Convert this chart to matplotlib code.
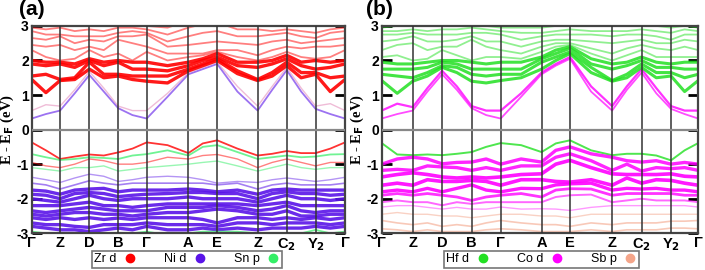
import numpy as np
import matplotlib.pyplot as plt
from matplotlib.lines import Line2D

plt.rcParams.update({
    'font.family': 'Liberation Sans',
    'font.weight': 'bold',
    'font.size': 10,
})

# k-path (high-symmetry points; bands are sampled at these and the midpoints between them)
k_labels = ['Γ', 'Z', 'D', 'B', 'Γ', 'A', 'E', 'Z', 'C$_2$', 'Y$_2$', 'Γ']
k_sym_a = [0.0, 0.0905, 0.184, 0.276, 0.367, 0.500, 0.592, 0.721, 0.814, 0.906, 1.0]
k_sym_b = [0.0, 0.098, 0.191, 0.284, 0.376, 0.505, 0.595, 0.728, 0.821, 0.914, 1.0]

# band energies (eV), one row per k point (Γ, mid, Z, mid, D, ..., Γ)
cb_a = [
    [0.32, 0.55, 1.45, 1.55, 1.90, 2.00, 2.30, 2.45, 2.65, 2.85, 2.95, 3.10],
    [0.45, 0.72, 1.07, 1.60, 1.85, 1.95, 2.10, 2.40, 2.60, 2.75, 2.90, 3.00],
    [0.55, 0.68, 1.42, 1.45, 1.90, 1.95, 2.00, 2.45, 2.70, 2.75, 2.95, 3.10],
    [1.05, 1.15, 1.45, 1.50, 1.80, 1.90, 2.05, 2.30, 2.50, 2.70, 2.85, 3.00],
    [1.58, 1.68, 1.75, 1.95, 2.00, 2.05, 2.30, 2.40, 2.60, 2.70, 2.90, 3.00],
    [1.10, 1.20, 1.50, 1.60, 1.85, 1.95, 2.10, 2.30, 2.55, 2.70, 2.85, 3.00],
    [0.62, 0.68, 1.55, 1.60, 1.95, 2.00, 2.20, 2.60, 2.70, 2.80, 2.95, 3.05],
    [0.42, 0.55, 1.45, 1.55, 1.75, 1.95, 2.00, 2.50, 2.70, 2.85, 2.95, 3.05],
    [0.32, 0.55, 1.40, 1.55, 1.75, 1.95, 2.25, 2.40, 2.75, 2.80, 2.90, 3.00],
    [0.95, 1.05, 1.35, 1.55, 1.70, 1.85, 2.00, 2.20, 2.40, 2.55, 2.75, 2.95],
    [1.60, 1.65, 1.70, 1.75, 1.85, 1.95, 2.10, 2.20, 2.45, 2.70, 2.95, 3.15],
    [1.75, 1.80, 1.85, 1.90, 2.00, 2.05, 2.15, 2.20, 2.50, 2.80, 3.05, 3.25],
    [1.90, 1.95, 2.00, 2.05, 2.10, 2.20, 2.25, 2.30, 2.55, 2.85, 3.10, 3.30],
    [1.10, 1.25, 1.62, 1.70, 1.85, 1.95, 2.10, 2.30, 2.50, 2.70, 2.90, 3.05],
    [0.55, 0.68, 1.42, 1.45, 1.80, 1.95, 2.00, 2.15, 2.45, 2.70, 2.90, 3.10],
    [1.15, 1.25, 1.55, 1.65, 1.90, 2.00, 2.10, 2.30, 2.55, 2.75, 2.85, 3.00],
    [1.72, 1.80, 1.85, 1.95, 2.05, 2.15, 2.25, 2.40, 2.60, 2.80, 2.90, 3.00],
    [1.10, 1.20, 1.50, 1.65, 1.85, 1.95, 2.10, 2.35, 2.50, 2.70, 2.85, 3.00],
    [0.60, 0.68, 1.60, 1.65, 1.75, 2.00, 2.05, 2.40, 2.55, 2.65, 2.80, 3.00],
    [0.45, 0.75, 1.10, 1.50, 1.80, 1.95, 2.10, 2.40, 2.60, 2.80, 2.90, 3.00],
    [0.32, 0.55, 1.45, 1.55, 1.90, 2.00, 2.30, 2.45, 2.65, 2.85, 2.95, 3.10],
]
vb_a = [
    [-0.37, -0.71, -0.95, -1.10, -1.38, -1.55, -1.75, -1.87, -2.00, -2.20, -2.35, -2.45, -2.55, -2.70, -2.80, -2.95],
    [-0.60, -0.80, -1.05, -1.15, -1.45, -1.60, -1.78, -1.90, -2.05, -2.20, -2.40, -2.50, -2.60, -2.75, -2.85, -3.00],
    [-0.85, -0.88, -1.10, -1.20, -1.53, -1.72, -1.87, -2.00, -2.10, -2.20, -2.35, -2.45, -2.55, -2.75, -2.90, -3.00],
    [-0.78, -0.85, -1.00, -1.10, -1.40, -1.60, -1.75, -1.85, -2.00, -2.15, -2.30, -2.40, -2.60, -2.80, -2.90, -3.05],
    [-0.72, -0.80, -0.85, -1.10, -1.29, -1.48, -1.72, -1.82, -1.90, -2.10, -2.25, -2.40, -2.55, -2.83, -2.95, -3.10],
    [-0.75, -0.82, -0.90, -1.05, -1.35, -1.55, -1.70, -1.85, -2.00, -2.20, -2.30, -2.45, -2.60, -2.75, -2.90, -3.05],
    [-0.66, -0.85, -1.00, -1.20, -1.50, -1.60, -1.80, -1.94, -2.05, -2.20, -2.35, -2.45, -2.56, -2.75, -2.85, -3.00],
    [-0.55, -0.75, -1.00, -1.15, -1.45, -1.55, -1.75, -1.90, -2.00, -2.25, -2.35, -2.50, -2.60, -2.75, -2.90, -3.00],
    [-0.37, -0.71, -0.95, -1.10, -1.38, -1.55, -1.75, -1.87, -2.00, -2.20, -2.35, -2.45, -2.55, -2.70, -2.80, -2.95],
    [-0.45, -0.60, -0.80, -1.05, -1.35, -1.55, -1.75, -1.85, -2.00, -2.15, -2.25, -2.40, -2.55, -2.75, -2.90, -3.05],
    [-0.68, -0.75, -0.85, -1.00, -1.38, -1.55, -1.72, -1.82, -1.95, -2.15, -2.25, -2.40, -2.55, -2.75, -2.90, -3.00],
    [-0.40, -0.50, -0.75, -0.95, -1.45, -1.55, -1.75, -1.82, -2.00, -2.15, -2.25, -2.35, -2.60, -2.75, -2.85, -2.95],
    [-0.31, -0.45, -0.72, -0.91, -1.55, -1.60, -1.80, -1.85, -2.00, -2.15, -2.20, -2.30, -2.70, -2.80, -2.90, -2.95],
    [-0.55, -0.65, -0.85, -1.05, -1.50, -1.55, -1.75, -1.85, -2.00, -2.15, -2.25, -2.35, -2.55, -2.70, -2.85, -2.95],
    [-0.75, -0.85, -1.10, -1.20, -1.53, -1.72, -1.87, -2.00, -2.10, -2.20, -2.35, -2.45, -2.55, -2.70, -2.90, -3.00],
    [-0.70, -0.80, -0.95, -1.10, -1.45, -1.60, -1.75, -1.85, -2.00, -2.15, -2.30, -2.45, -2.60, -2.75, -2.85, -3.00],
    [-0.62, -0.75, -0.85, -1.00, -1.40, -1.55, -1.72, -1.80, -1.90, -2.10, -2.20, -2.35, -2.55, -2.70, -2.85, -3.00],
    [-0.68, -0.80, -0.95, -1.10, -1.45, -1.60, -1.75, -1.85, -2.00, -2.20, -2.35, -2.50, -2.60, -2.70, -2.85, -3.00],
    [-0.68, -0.78, -1.05, -1.15, -1.50, -1.60, -1.75, -1.85, -2.00, -2.20, -2.40, -2.50, -2.55, -2.70, -2.80, -2.90],
    [-0.55, -0.72, -0.95, -1.10, -1.45, -1.60, -1.75, -1.90, -2.05, -2.20, -2.35, -2.45, -2.60, -2.75, -2.85, -3.00],
    [-0.37, -0.71, -0.95, -1.10, -1.38, -1.55, -1.75, -1.87, -2.00, -2.20, -2.35, -2.45, -2.55, -2.70, -2.80, -2.95],
]
cb_b = [
    [0.32, 0.55, 1.42, 1.60, 1.75, 1.95, 2.10, 2.30, 2.55, 2.75, 2.85, 2.95],
    [0.45, 0.75, 1.05, 1.55, 1.75, 1.90, 2.15, 2.45, 2.60, 2.75, 2.85, 3.00],
    [0.55, 0.65, 1.40, 1.50, 1.75, 1.90, 2.00, 2.50, 2.70, 2.80, 2.90, 3.05],
    [1.10, 1.20, 1.55, 1.65, 1.80, 1.95, 2.05, 2.30, 2.55, 2.75, 2.85, 3.00],
    [1.60, 1.70, 1.80, 1.85, 1.95, 2.00, 2.30, 2.40, 2.55, 2.75, 2.90, 3.00],
    [1.15, 1.25, 1.65, 1.80, 1.90, 2.00, 2.15, 2.40, 2.60, 2.75, 2.90, 3.00],
    [0.62, 0.68, 1.40, 1.60, 1.75, 1.95, 2.00, 2.60, 2.70, 2.80, 2.95, 3.05],
    [0.42, 0.55, 1.35, 1.55, 1.75, 1.90, 2.10, 2.40, 2.55, 2.80, 2.90, 3.00],
    [0.32, 0.55, 1.42, 1.60, 1.75, 1.95, 2.10, 2.30, 2.55, 2.75, 2.85, 2.95],
    [0.95, 1.05, 1.50, 1.60, 1.75, 1.95, 2.05, 2.20, 2.40, 2.60, 2.80, 2.95],
    [1.60, 1.65, 1.75, 1.95, 2.05, 2.10, 2.25, 2.40, 2.55, 2.70, 2.80, 2.95],
    [1.85, 1.90, 2.00, 2.10, 2.20, 2.30, 2.40, 2.50, 2.60, 2.75, 2.85, 3.00],
    [2.05, 2.10, 2.20, 2.25, 2.35, 2.40, 2.45, 2.50, 2.60, 2.75, 2.90, 3.00],
    [1.10, 1.25, 1.65, 1.80, 1.90, 2.05, 2.20, 2.35, 2.55, 2.75, 2.85, 3.00],
    [0.55, 0.68, 1.40, 1.42, 1.75, 1.90, 2.00, 2.20, 2.50, 2.70, 2.85, 3.05],
    [1.15, 1.25, 1.50, 1.60, 1.85, 1.95, 2.15, 2.35, 2.55, 2.75, 2.85, 3.00],
    [1.65, 1.75, 1.80, 1.90, 2.00, 2.10, 2.30, 2.45, 2.60, 2.75, 2.90, 3.00],
    [1.05, 1.20, 1.50, 1.65, 1.80, 1.95, 2.10, 2.35, 2.50, 2.70, 2.85, 3.00],
    [0.60, 0.68, 1.55, 1.65, 1.80, 1.90, 2.10, 2.30, 2.50, 2.60, 2.80, 2.95],
    [0.45, 0.55, 1.10, 1.50, 1.75, 1.95, 2.10, 2.40, 2.60, 2.75, 2.90, 3.00],
    [0.32, 0.55, 1.42, 1.60, 1.75, 1.95, 2.10, 2.30, 2.55, 2.75, 2.85, 2.95],
]
vb_b = [
    [-0.39, -1.00, -1.18, -1.37, -1.61, -1.80, -1.90, -2.10, -2.24, -2.45, -2.63, -2.87],
    [-0.72, -0.85, -1.15, -1.30, -1.55, -1.75, -1.85, -2.05, -2.20, -2.40, -2.70, -2.90],
    [-0.74, -0.80, -1.18, -1.25, -1.61, -1.80, -1.90, -2.10, -2.20, -2.45, -2.75, -2.95],
    [-0.72, -0.85, -1.05, -1.30, -1.45, -1.70, -1.85, -2.10, -2.25, -2.45, -2.70, -2.90],
    [-0.74, -0.99, -1.08, -1.37, -1.50, -1.80, -1.90, -2.19, -2.30, -2.50, -2.80, -2.95],
    [-0.70, -0.95, -1.10, -1.40, -1.50, -1.70, -1.95, -2.10, -2.25, -2.50, -2.75, -2.95],
    [-0.65, -0.94, -1.18, -1.37, -1.47, -1.60, -2.05, -2.15, -2.30, -2.55, -2.80, -2.95],
    [-0.50, -0.85, -1.10, -1.40, -1.50, -1.75, -1.95, -2.10, -2.30, -2.50, -2.70, -2.90],
    [-0.39, -1.00, -1.18, -1.37, -1.61, -1.80, -1.90, -2.10, -2.24, -2.45, -2.63, -2.87],
    [-0.45, -0.85, -1.05, -1.30, -1.45, -1.70, -1.85, -2.10, -2.30, -2.45, -2.70, -2.90],
    [-0.65, -0.94, -1.05, -1.28, -1.45, -1.71, -1.95, -2.10, -2.29, -2.50, -2.75, -2.95],
    [-0.40, -0.60, -0.80, -1.00, -1.50, -1.60, -1.75, -1.95, -2.30, -2.50, -2.75, -2.95],
    [-0.31, -0.50, -0.70, -0.89, -1.52, -1.57, -1.71, -1.90, -2.34, -2.55, -2.80, -2.95],
    [-0.60, -0.70, -0.90, -1.10, -1.45, -1.55, -1.72, -1.88, -2.25, -2.45, -2.70, -2.90],
    [-0.74, -0.80, -1.18, -1.28, -1.61, -1.75, -1.90, -2.10, -2.20, -2.45, -2.75, -2.95],
    [-0.70, -0.90, -1.00, -1.30, -1.40, -1.70, -1.85, -2.05, -2.20, -2.45, -2.70, -2.90],
    [-0.70, -0.94, -1.20, -1.30, -1.55, -1.72, -1.85, -2.00, -2.20, -2.45, -2.70, -2.90],
    [-0.75, -0.90, -1.10, -1.30, -1.45, -1.70, -1.85, -2.05, -2.20, -2.45, -2.70, -2.90],
    [-0.89, -1.00, -1.13, -1.28, -1.47, -1.75, -1.85, -2.05, -2.20, -2.45, -2.65, -2.85],
    [-0.60, -0.95, -1.10, -1.35, -1.55, -1.75, -1.90, -2.05, -2.20, -2.45, -2.65, -2.85],
    [-0.39, -1.00, -1.18, -1.37, -1.61, -1.80, -1.90, -2.10, -2.24, -2.45, -2.63, -2.87],
]

# orbital colours
RED, VIOLET, GREEN = '#ff0000', '#5a14e8', '#33ee66'
HF, SB, PEACH = '#22e022', '#ff00ff', '#f4a58a'

# (colour, width, alpha) per band: cb bottom->top, vb top->bottom
cb_style_a = [(VIOLET, 1.3, 0.6), ('#e07ab0', 1.0, 0.5)] + [(RED, 2.4, 0.9)] * 4 + [(RED, 1.3, 0.5)] * 6
vb_style_a = [(RED, 1.3, 0.8), (GREEN, 1.3, 0.7), (RED, 1.0, 0.5), (GREEN, 1.0, 0.5),
              (VIOLET, 1.0, 0.45), (VIOLET, 1.2, 0.55)] + [(VIOLET, 2.4, 0.9)] * 9 + [(GREEN, 1.2, 0.7)]
cb_style_b = [(SB, 1.3, 0.7), (SB, 1.6, 0.8)] + [(HF, 2.2, 0.85)] * 4 + [(HF, 1.3, 0.5)] * 6
vb_style_b = [(HF, 1.4, 0.8), (SB, 2.4, 0.85), (SB, 2.4, 0.85), (SB, 2.6, 0.9), (SB, 2.6, 0.9),
              (SB, 2.4, 0.9), (SB, 2.0, 0.8), (SB, 1.4, 0.6), (SB, 1.0, 0.4),
              (PEACH, 1.0, 0.5), (PEACH, 1.2, 0.6), (PEACH, 1.2, 0.6)]


def kpath(ksym):
    pts = []
    for i in range(len(ksym) - 1):
        pts += [ksym[i], (ksym[i] + ksym[i + 1]) / 2]
    return np.array(pts + [ksym[-1]])


def draw_panel(ax, ksym, cb, vb, cb_style, vb_style, tag, ylab_x, tag_x):
    k = kpath(ksym)
    for rows, styles in ((cb, cb_style), (vb, vb_style)):
        arr = np.array(rows)
        for j in range(arr.shape[1]):
            c, lw, al = styles[j]
            ax.plot(k, arr[:, j], color=c, lw=lw, alpha=al, solid_capstyle='round', zorder=2)
    for x in ksym[1:-1]:
        ax.axvline(x, color='#333333', lw=1.1, zorder=3)
    ax.axhline(0, color='#888888', lw=1.6, zorder=3)
    ax.set_xlim(0, 1)
    ax.set_ylim(-3, 3)
    ax.set_xticks(ksym)
    ax.set_xticklabels(k_labels, fontsize=10.5, fontweight='bold')
    ax.tick_params(axis='x', length=0, pad=2)
    ax.set_yticks([-3, -2, -1, 0, 1, 2, 3])
    ax.set_yticklabels(['-3', '-2', '-1', '0', '1', '2', '3'], fontsize=10, fontweight='bold')
    ax.tick_params(axis='y', direction='in', length=7, width=2, right=True, pad=2)
    for s in ax.spines.values():
        s.set_color('#444444')
        s.set_linewidth(1.6)
    ax.set_ylabel('E - E$_\\mathbf{F}$ (eV)', family='Liberation Serif', fontweight='bold', fontsize=10.5)
    # label anchor is its right edge (rotated text)
    ax.yaxis.set_label_coords(ylab_x, 0.5)
    ax.text(tag_x, 1.035, tag, transform=ax.transAxes, fontsize=15, fontweight='bold', va='bottom')


fig = plt.figure(figsize=(7.05, 2.70), dpi=100)
ax1 = fig.add_axes([0.045, 0.136, 0.4444, 0.768])
ax2 = fig.add_axes([0.5414, 0.136, 0.449, 0.768])

draw_panel(ax1, k_sym_a, cb_a, vb_a, cb_style_a, vb_style_a, '(a)', -0.049, -0.040)
draw_panel(ax2, k_sym_b, cb_b, vb_b, cb_style_b, vb_style_b, '(b)', -0.050, -0.048)

legend_a = [('Zr d', RED), ('Ni d', VIOLET), ('Sn p', GREEN)]
legend_b = [('Hf d', HF), ('Co d', SB), ('Sb p', PEACH)]
for xc, items in ((0.265, legend_a), (0.768, legend_b)):
    handles = [Line2D([0], [0], ls='none', marker='o', ms=6, color=c, label=t) for t, c in items]
    leg = fig.legend(handles=handles, loc='center', bbox_to_anchor=(xc, 0.04), ncol=3,
                     markerfirst=False, frameon=True, fancybox=False, fontsize=9,
                     handletextpad=0.6, columnspacing=2.2, borderpad=0.2, handlelength=1.0,
                     borderaxespad=0)
    leg.get_frame().set_edgecolor('#555555')
    leg.get_frame().set_linewidth(1.2)
    for t in leg.get_texts():
        t.set_fontweight('normal')

fig.savefig('out.png', dpi=100)
